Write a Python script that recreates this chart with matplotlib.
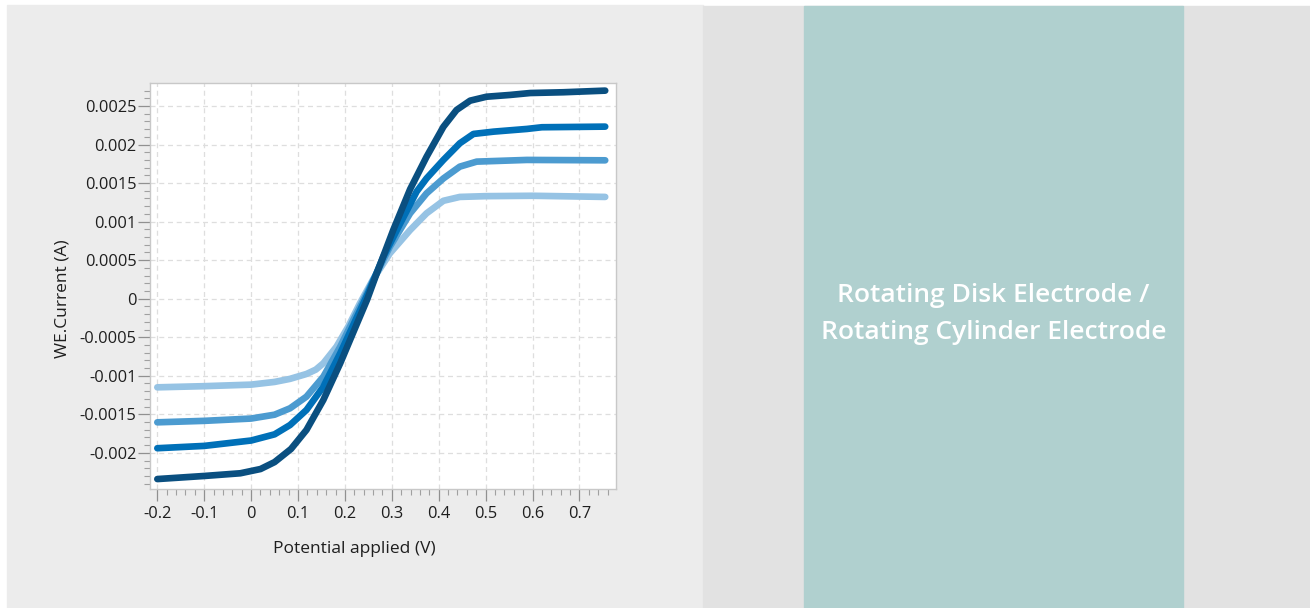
import matplotlib
matplotlib.use("Agg")
import matplotlib.pyplot as plt
from matplotlib.patches import Rectangle
from matplotlib.ticker import MultipleLocator, FuncFormatter

plt.rcParams['font.family'] = ['Open Sans', 'DejaVu Sans']

# potential (V) / current (A), one pair of lists per rotation rate
x_light = [-0.2, -0.1, 0.0, 0.05, 0.083, 0.118, 0.138, 0.154, 0.182, 0.207, 0.232, 0.26, 0.296, 0.339, 0.374, 0.41, 0.445, 0.5, 0.6, 0.755]
y_light = [-0.00115, -0.001135, -0.001115, -0.00108, -0.00104, -0.000977, -0.00092, -0.000838, -0.000623, -0.000363, -0.00006, 0.00025, 0.000589, 0.00089, 0.001107, 0.00127, 0.00132, 0.00133, 0.001335, 0.00132]

x_mid = [-0.2, -0.1, 0.0, 0.05, 0.083, 0.118, 0.154, 0.19, 0.218, 0.245, 0.27, 0.296, 0.339, 0.374, 0.41, 0.445, 0.481, 0.588, 0.755]
y_mid = [-0.001604, -0.001585, -0.001555, -0.001505, -0.001422, -0.001271, -0.001012, -0.000623, -0.000276, 0.00005, 0.00036, 0.000675, 0.001107, 0.001366, 0.00156, 0.001713, 0.001778, 0.0018, 0.001795]

x_blue = [-0.2, -0.1, 0.0, 0.05, 0.083, 0.118, 0.154, 0.19, 0.226, 0.25, 0.282, 0.318, 0.353, 0.374, 0.41, 0.445, 0.474, 0.517, 0.588, 0.62, 0.755]
y_blue = [-0.00194, -0.00191, -0.00184, -0.00176, -0.001639, -0.001444, -0.001142, -0.000708, -0.000234, 0.00008, 0.000545, 0.000977, 0.00139, 0.00156, 0.0018, 0.002016, 0.002137, 0.002167, 0.002202, 0.002224, 0.002232]

x_dark = [-0.2, -0.1, -0.023, 0.02, 0.05, 0.085, 0.118, 0.154, 0.19, 0.226, 0.247, 0.268, 0.303, 0.339, 0.374, 0.41, 0.438, 0.467, 0.502, 0.552, 0.595, 0.666, 0.755]
y_dark = [-0.00234, -0.0023, -0.002265, -0.00221, -0.00212, -0.00195, -0.001703, -0.001314, -0.000838, -0.000319, -0.000017, 0.00033, 0.00089, 0.00142, 0.00184, 0.00223, 0.002448, 0.002569, 0.00262, 0.002643, 0.002668, 0.002678, 0.002699]

series = [(x_light, y_light, '#96c3e4'),
          (x_mid, y_mid, '#4c9bd0'),
          (x_blue, y_blue, '#0070b8'),
          (x_dark, y_dark, '#0a4f80')]

panel_text = "Rotating Disk Electrode /\nRotating Cylinder Electrode"

W, H = 1310, 608
fig = plt.figure(figsize=(W / 100, H / 100), dpi=100)
fig.patch.set_facecolor('white')

# background panels (pixel boxes -> figure fraction)
def box(x0, y0, x1, y1, color):
    fig.patches.append(Rectangle((x0 / W, 1 - y1 / H), (x1 - x0) / W, (y1 - y0) / H,
                                 transform=fig.transFigure, color=color, zorder=-5))

box(7, 5, 703, 608, '#ececec')
box(703, 6, 1310, 608, '#e2e2e2')
box(804, 6, 1183, 608, '#b0d0cf')

fig.text((804 + 1183) / 2 / W, 1 - 314 / H, panel_text, color='white', fontsize=19,
         fontweight='semibold', ha='center', va='center', linespacing=1.6)

ax = fig.add_axes([150 / W, 1 - 489 / H, 466 / W, 406 / H])
ax.set_zorder(2)
ax.set_facecolor('white')

for xs, ys, c in series:
    ax.plot(xs, ys, color=c, lw=4.8, solid_capstyle='round', solid_joinstyle='round')

ax.set_xlim(-0.2156, 0.778)
ax.set_ylim(-0.002469, 0.002798)

ax.xaxis.set_major_locator(MultipleLocator(0.1))
ax.xaxis.set_minor_locator(MultipleLocator(0.02))
ax.yaxis.set_major_locator(MultipleLocator(0.0005))
ax.yaxis.set_minor_locator(MultipleLocator(0.0001))

def fmt(v, pos):
    s = ('%.4f' % v).rstrip('0').rstrip('.')
    return '0' if s in ('-0', '0') else s

ax.xaxis.set_major_formatter(FuncFormatter(fmt))
ax.yaxis.set_major_formatter(FuncFormatter(fmt))

ax.grid(True, which='major', color='#dedede', linestyle=(0, (4, 3)), linewidth=0.9)
ax.set_axisbelow(True)

for s in ax.spines.values():
    s.set_color('#c8c8c8')
    s.set_linewidth(1.0)

ax.tick_params(which='major', length=8.6, width=0.9, color='#909090', labelsize=11.8,
               labelcolor='#1e1e1e')
ax.tick_params(which='minor', length=4.3, width=0.8, color='#a0a0a0')
ax.tick_params(axis='x', which='major', pad=3.5)
ax.tick_params(axis='y', which='major', pad=1.0)

ax.set_xlabel('Potential applied (V)', fontsize=12.5, color='#1e1e1e')
ax.xaxis.set_label_coords(0.438, -0.127)
ax.set_ylabel('WE.Current (A)', fontsize=12.5, color='#1e1e1e')
ax.yaxis.set_label_coords(-0.17, 0.468)

fig.savefig('out.png', dpi=100, facecolor=fig.get_facecolor())
